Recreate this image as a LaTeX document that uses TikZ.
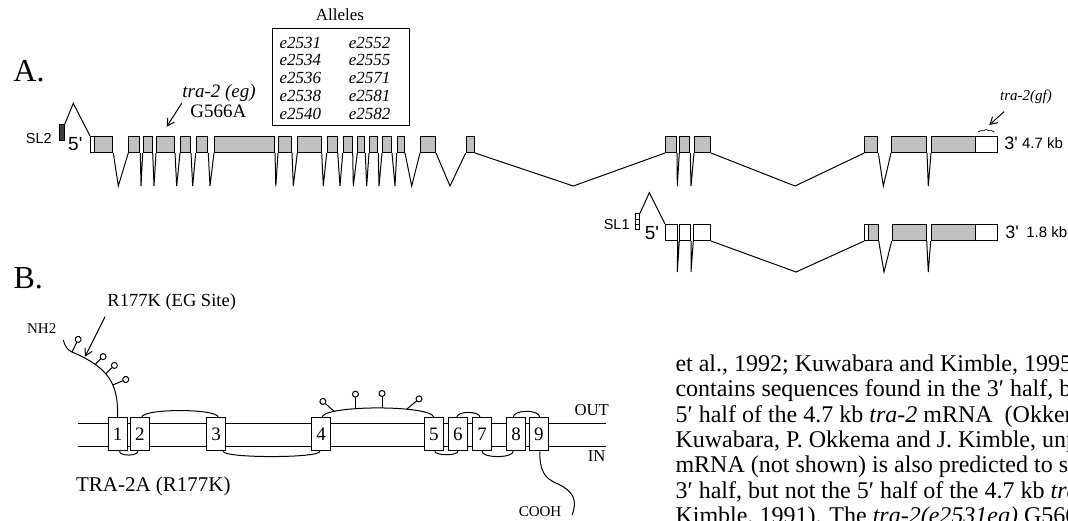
\documentclass[tikz,border=0pt]{standalone}
\usepackage{fontspec}
\setmainfont{Liberation Serif}
\setsansfont{Liberation Sans}
\usetikzlibrary{
    arrows.meta,
    decorations.pathreplacing,
    calc
}
\definecolor{exongray}{HTML}{C0C0C0}
\definecolor{leadergray}{HTML}{3C3C3C}
\tikzset {
    exon/.style = {draw, inner sep = 0pt, minimum height = 16pt, anchor = north west},
    leader/.style = {draw, inner sep = 0pt, minimum width = 4.5pt, minimum height = 16pt, anchor = north west},
    helix/.style = {draw, fill = white, inner sep = 0pt, minimum width = 19pt, minimum height = 33pt,
        font = \fontsize{19}{19}\selectfont},
    pointer/.style = {-{Straight Barb[length = 7pt, width = 8pt]}},
    sans/.style = {font = \sffamily\fontsize{#1}{#1}\selectfont},
    serif/.style = {font = \fontsize{#1}{#1}\selectfont},
    lolly/.pic = {
        \draw (0, 0) -- (0, -#1);
        \draw [fill = white] (0, -#1 - 3) circle [radius = 3pt];
    }
}

\begin{document}
\begin{tikzpicture}[x = 1pt, y = -1pt, line width = 1pt]
    \useasboundingbox (0, 0) rectangle (1068, 520);
    \clip (0, 0) rectangle (1068, 520);

    % A. the 4.7 kb transcript
    \node (labelA) [serif = 32] at (29, 71) {A.};
    \node (sl2) [leader, fill = leadergray] at (59.3, 124) {};
    \node (sl2text) [sans = 14.5] at (38.8, 138.3) {SL2};
    \node (fiveA) [sans = 19] at (75.3, 144.5) {5\textquotesingle};
    \foreach \n/\a/\b/\f in {a0/90/93.5/white, a1/93.5/112.3/exongray, a2/128.3/139.3/exongray,
        a3/142.7/151.7/exongray, a4/156/174/exongray, a5/180/190/exongray, a6/195.7/207.3/exongray,
        a7/214/274/exongray, a8/278/291/exongray, a9/297.3/320.7/exongray, a10/326.7/336.7/exongray,
        a11/342.7/351.7/exongray, a12/357.3/364.3/exongray, a13/369/377.3/exongray,
        a14/382/391/exongray, a15/396.7/404/exongray, a16/420/435/exongray, a17/465.7/474/exongray,
        a18/665/676/exongray, a19/679.3/689.3/exongray, a20/694/710/exongray,
        a21/864.3/877.3/exongray, a22/891/926/exongray, a23/931/975/exongray, a24/975/997.3/white}
        \node (\n) [exon, fill = \f, minimum width = {(\b - \a) * 1pt}] at (\a, 136) {};
    \coordinate (sl2peak) at (73.3, 103.3);
    \draw (sl2.north east) -- (sl2peak) -- (a0.north west);
    \foreach \p/\q/\v in {a1/a2/118.3, a2/a3/141, a3/a4/154, a4/a5/176.7, a5/a6/192.7,
        a6/a7/210, a7/a8/275.8, a8/a9/293.3, a9/a10/323.3, a10/a11/340, a11/a12/353.3,
        a12/a13/366.7, a13/a14/379, a14/a15/395, a15/a16/411.7, a16/a17/450, a17/a18/573.3,
        a18/a19/677.3, a19/a20/691, a20/a21/795, a21/a22/883.3, a22/a23/928.3}
        \draw (\p.south east) -- (\v, 186) -- (\q.south west);
    \node (threeA) [sans = 18] at (1011, 143) {3\textquotesingle};
    \node (sizeA) [sans = 15] at (1042.5, 143) {4.7 kb};

    % alleles and mutations
    \node (egname) [serif = 19] at (219, 92.5) {\textit{tra-2 (eg)}};
    \node (egchange) [serif = 19] at (218.3, 111) {G566A};
    \coordinate (egfrom) at (181.7, 103.3);
    \coordinate (egto) at (166.7, 126.7);
    \draw [pointer] (egfrom) -- (egto);
    \node (alletitle) [serif = 17] at (340, 15) {Alleles};
    \node (allelebox) [draw, inner sep = 0pt, minimum width = 137pt, minimum height = 96.7pt,
        anchor = north west] at (272.3, 28.3) {};
    \node (allelelist) [inner sep = 0pt, anchor = north west] at ([xshift = 6.7pt, yshift = -6.7pt]allelebox.north west) {%
        \fontsize{17}{17.9}\selectfont\itshape
        \begin{tabular}{@{}l@{\hspace{27.8pt}}l@{}}
            e2531 & e2552\\
            e2534 & e2555\\
            e2536 & e2571\\
            e2538 & e2581\\
            e2540 & e2582
        \end{tabular}};
    \node (gfname) [serif = 15] at (1026, 97) {\textit{tra-2(gf)}};
    \coordinate (gffrom) at (1004, 111.7);
    \coordinate (gfto) at (989.3, 125);
    \draw [pointer] (gffrom) -- (gfto);
    \draw [line width = .7pt, decorate, decoration = {brace, amplitude = 2.5pt}]
        ([xshift = 3pt, yshift = 4pt]a24.north west) -- ([xshift = -4pt, yshift = 4pt]a24.north east);

    % the 1.8 kb transcript
    \node (sl1) [leader, fill = white, minimum width = 4pt] at (635, 213.3) {};
    \draw [line width = .7pt] ($(sl1.north west)!.33!(sl1.south west)$) -- ($(sl1.north east)!.33!(sl1.south east)$);
    \draw [line width = .7pt] ($(sl1.north west)!.66!(sl1.south west)$) -- ($(sl1.north east)!.66!(sl1.south east)$);
    \node (sl1text) [sans = 14.5] at (616.7, 225) {SL1};
    \node (fiveB) [sans = 19] at (652, 233.3) {5\textquotesingle};
    \foreach \n/\a/\b/\f in {b1/665/676.7/white, b2/679.3/690/white, b3/693.3/710/white,
        b4/864.3/868.3/white, b5/868.3/877.7/exongray, b6/891.7/925.7/exongray,
        b7/930.7/975/exongray, b8/975/996.7/white}
        \node (\n) [exon, fill = \f, minimum width = {(\b - \a) * 1pt}] at (\a, 224) {};
    \coordinate (sl1peak) at (649.3, 192.7);
    \draw (sl1.north east) -- (sl1peak) -- (b1.north west);
    \foreach \p/\q/\v in {b1/b2/677.3, b2/b3/691, b3/b4/796, b5/b6/884, b6/b7/928.3}
        \draw (\p.south east) -- (\v, 272) -- (\q.south west);
    \node (threeB) [sans = 18] at (1012, 232.3) {3\textquotesingle};
    \node (sizeB) [sans = 15] at (1046.7, 232.3) {1.8 kb};

    % B. the protein in the membrane
    \node (labelB) [serif = 32] at (28.3, 278.3) {B.};
    \coordinate (outL) at (78.3, 423.3);
    \coordinate (outR) at (606, 423.3);
    \coordinate (inL) at (78.3, 446);
    \coordinate (inR) at (606, 446);
    \draw (outL) -- (outR);
    \draw (inL) -- (inR);
    \foreach \i/\x in {1/117.5, 2/139.8, 3/216.2, 4/321, 5/433.8, 6/457.8, 7/482, 8/516.2, 9/538.8}
        \node (tm\i) [helix] at (\x, 434.3) {\i};
    \node (outtext) [serif = 16.7] at (591.7, 410) {OUT};
    \node (intext) [serif = 16.7] at (596.7, 456) {IN};

    \node (nh2) [serif = 15] at (41.7, 328.3) {NH2};
    \coordinate (nterm) at (63.3, 340);
    \draw (nterm) .. controls (65, 347) and (68, 350) .. (72, 352)
        pic [pos = 1, rotate = -26] {lolly = 11}
        .. controls (110, 368) and (118.5, 385) .. (tm1.north)
        pic [pos = .25, rotate = -45] {lolly = 8}
        pic [pos = .42, rotate = -46] {lolly = 9}
        pic [pos = .6, rotate = -67] {lolly = 11};
    \node (egsitename) [serif = 18.5] at (171.7, 301.7) {R177K (EG Site)};
    \coordinate (egfoot) at (105, 316.7);
    \coordinate (egsite) at (85, 356.7);
    \draw [pointer] (egfoot) -- (egsite);

    \draw ([xshift = 2pt]tm1.south) .. controls +(0, 5) and +(0, 5) .. ([xshift = -2pt]tm2.south);
    \draw ([xshift = 2pt]tm2.north) .. controls +(0, -9) and +(0, -9) .. ([xshift = 2pt]tm3.north);
    \draw ([xshift = 7pt]tm3.south) .. controls +(0, 7) and +(0, 7) .. ([xshift = -1pt]tm4.south);
    \draw ([xshift = 1pt]tm4.north) .. controls +(2, -12.5) and +(-2, -12.5) .. (tm5.north)
        pic [pos = .2, rotate = 49] {lolly = 12}
        pic [pos = .36, rotate = 0] {lolly = 11.5}
        pic [pos = .525, rotate = 0] {lolly = 11.5}
        pic [pos = .683, rotate = -50] {lolly = 13};
    \draw ([xshift = 1pt]tm5.south) .. controls +(0, 4.5) and +(0, 4.5) .. (tm6.south);
    \draw ([xshift = -1pt]tm6.north) .. controls +(0, -6.5) and +(0, -6.5) .. ([xshift = -2pt]tm7.north);
    \draw (tm7.south) .. controls +(0, 7) and +(0, 7) .. ([xshift = -3pt]tm8.south);
    \draw ([xshift = -3pt]tm8.north) .. controls +(0, -8) and +(0, -8) .. ([xshift = 1pt]tm9.north);

    \coordinate (cterm) at (572, 515);
    \draw ([xshift = 1pt]tm9.south) .. controls +(0, 18) and (543, 478) .. (558, 484)
        .. controls (573, 491) and (578, 500) .. (cterm);
    \node (cooh) [serif = 15] at (540, 512) {COOH};
    \node (protname) [serif = 21] at (153.3, 486.7) {TRA-2A (R177K)};

    % running text of the page
    \node (pagetext) [inner sep = 0pt, anchor = north west, align = left,
        font = \fontsize{24}{25.3}\selectfont] at (675, 354.5) {%
        et al., 1992; Kuwabara and Kimble, 1995).\\
        contains sequences found in the 3′ half, but\\
        5′ half of the 4.7 kb \textit{tra-2} mRNA\ \ (Okkema\\
        Kuwabara, P. Okkema and J. Kimble, unp\\
        mRNA (not shown) is also predicted to sp\\
        3′ half, but not the 5′ half of the 4.7 kb \textit{tra-2}\\
        Kimble, 1991). The \textit{tra-2(e2531eg)} G566A};
\end{tikzpicture}
\end{document}
